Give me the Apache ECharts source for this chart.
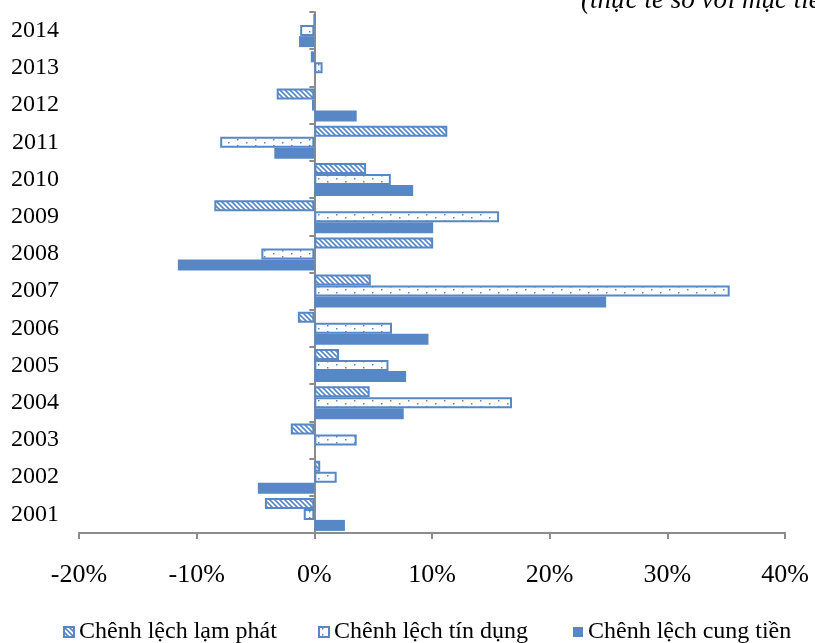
<!DOCTYPE html>
<html><head><meta charset="utf-8">
<script src="https://cdn.jsdelivr.net/npm/echarts@6/dist/echarts.min.js"></script>
<style>html,body{margin:0;padding:0;background:#fff}#c{width:815px;height:643px}</style>
</head><body><div id="c"></div>
<script>
const years = ['2001','2002','2003','2004','2005','2006','2007','2008','2009','2010','2011','2012','2013','2014'];
const lamPhat = [-4.2, 0.5, -2.0, 4.7, 2.1, -1.4, 4.8, 10.1, -8.5, 4.4, 11.3, -3.2, -0.3, 0];
const tinDung = [-0.9, 1.9, 3.6, 16.8, 6.3, 6.6, 35.3, -4.5, 15.7, 6.5, -8.0, -0.2, 0.7, -1.2];
const cungTien = [2.6, -4.8, 0, 7.6, 7.8, 9.7, 24.8, -11.6, 10.1, 8.4, -3.4, 3.6, 0, -1.3];
const seriesNames = ['Chênh lệch lạm phát', 'Chênh lệch tín dụng', 'Chênh lệch cung tiền'];
const subtitle = '(thực tế so với mục tiêu)';

const BLUE = '#5788C5';
const FONT = '"Liberation Serif", "Times New Roman", serif';

function hatch() {
  const c = document.createElement('canvas'); c.width = 5; c.height = 5;
  const g = c.getContext('2d');
  g.fillStyle = '#fff'; g.fillRect(0, 0, 5, 5);
  g.strokeStyle = BLUE; g.lineWidth = 1.6;
  g.beginPath();
  g.moveTo(-1, -1); g.lineTo(6, 6);
  g.moveTo(4, -1); g.lineTo(6, 1);
  g.moveTo(-1, 4); g.lineTo(1, 6);
  g.stroke();
  return c;
}
function dots() {
  const c = document.createElement('canvas'); c.width = 18; c.height = 6;
  const g = c.getContext('2d');
  g.fillStyle = '#fff'; g.fillRect(0, 0, 18, 6);
  g.fillStyle = BLUE;
  g.fillRect(3, 1, 1.5, 1.5);
  g.fillRect(12, 4, 1.5, 1.5);
  return c;
}

const chart = echarts.init(document.getElementById('c'), null, {renderer: 'canvas'});
const axisLineStyle = {color: '#8c8c8c', width: 2};
const legendCommon = {
  itemWidth: 10, itemHeight: 10, icon: 'rect', padding: 0, top: 620,
  textStyle: {fontFamily: FONT, fontSize: 24, color: '#000'}
};
chart.setOption({
  animation: false,
  backgroundColor: '#fff',
  grid: {left: 79, right: 30, top: 12, bottom: 110},
  graphic: [{
    type: 'text', left: 581, top: -13,
    style: {text: subtitle, font: 'italic 27px ' + FONT, fill: '#000'}
  }],
  legend: [
    Object.assign({}, legendCommon, {data: [seriesNames[0]], left: 63}),
    Object.assign({}, legendCommon, {data: [seriesNames[1]], left: 318}),
    Object.assign({}, legendCommon, {data: [seriesNames[2]], left: 573})
  ],
  xAxis: {
    type: 'value', min: -20, max: 40, interval: 10,
    axisLine: {show: true, lineStyle: axisLineStyle},
    axisTick: {show: true, length: 6, lineStyle: axisLineStyle},
    splitLine: {show: false},
    axisLabel: {formatter: '{value}%', fontFamily: FONT, fontSize: 26, color: '#000', margin: 29}
  },
  yAxis: [{
    type: 'category', data: years, position: 'left',
    axisLine: {show: false, onZero: false},
    axisTick: {show: false},
    axisLabel: {fontFamily: FONT, fontSize: 24, color: '#000', margin: 20}
  }, {
    type: 'category', data: years, position: 'left',
    axisLine: {show: true, onZero: true, lineStyle: axisLineStyle},
    axisTick: {show: true, length: 5, lineStyle: axisLineStyle},
    axisLabel: {show: false}
  }],
  series: [{
    name: seriesNames[0], type: 'bar', data: lamPhat, yAxisIndex: 0,
    barWidth: 11, barGap: '0%',
    itemStyle: {color: {image: hatch(), repeat: 'repeat'}, borderColor: BLUE, borderWidth: 2}
  }, {
    name: seriesNames[1], type: 'bar', data: tinDung, yAxisIndex: 0,
    barWidth: 11, barGap: '0%',
    itemStyle: {color: {image: dots(), repeat: 'repeat'}, borderColor: BLUE, borderWidth: 2}
  }, {
    name: seriesNames[2], type: 'bar', data: cungTien, yAxisIndex: 0,
    barWidth: 11, barGap: '0%',
    itemStyle: {color: BLUE}
  }]
});
</script></body></html>
